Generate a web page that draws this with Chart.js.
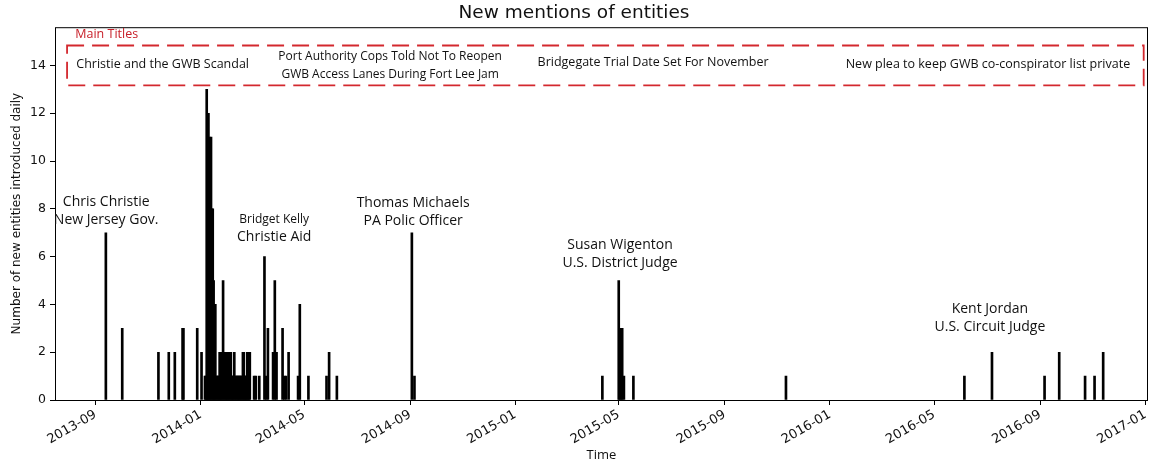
<!DOCTYPE html>
<html>
<head>
<meta charset="utf-8">
<script src="https://cdn.jsdelivr.net/npm/chart.js@4"></script>
<style>
  body { margin: 0; background: #fff; }
  .chart-wrap { width: 1163px; height: 463px; }
</style>
</head>
<body>
<div class="chart-wrap"><canvas id="chart"></canvas></div>
<script>
// days on which new entities showed up, and how many
const entityDates = [
  "2013-09-13", "2013-10-02", "2013-11-13", "2013-11-25", "2013-12-02",
  "2013-12-11", "2013-12-12", "2013-12-28", "2014-01-02",
  "2014-01-06", "2014-01-07", "2014-01-08", "2014-01-09", "2014-01-10",
  "2014-01-11", "2014-01-12", "2014-01-13", "2014-01-14", "2014-01-15",
  "2014-01-16", "2014-01-17", "2014-01-18", "2014-01-19", "2014-01-20",
  "2014-01-21", "2014-01-22", "2014-01-23", "2014-01-24", "2014-01-25",
  "2014-01-26", "2014-01-27", "2014-01-28", "2014-01-29", "2014-01-30",
  "2014-01-31", "2014-02-01", "2014-02-02", "2014-02-03", "2014-02-04",
  "2014-02-05", "2014-02-06", "2014-02-07", "2014-02-08", "2014-02-09",
  "2014-02-10", "2014-02-11", "2014-02-12", "2014-02-13", "2014-02-14",
  "2014-02-15", "2014-02-16", "2014-02-17", "2014-02-18", "2014-02-19",
  "2014-02-20", "2014-02-21", "2014-02-22", "2014-02-23", "2014-02-24",
  "2014-02-25", "2014-02-26", "2014-02-27",
  "2014-03-04", "2014-03-06", "2014-03-10", "2014-03-16", "2014-03-18",
  "2014-03-20", "2014-03-26", "2014-03-28", "2014-03-30", "2014-04-06",
  "2014-04-08", "2014-04-10", "2014-04-13", "2014-04-24", "2014-04-26",
  "2014-05-06", "2014-05-27", "2014-05-30", "2014-06-08",
  "2014-09-03", "2014-09-06",
  "2015-04-12", "2015-05-01", "2015-05-02", "2015-05-04", "2015-05-05",
  "2015-05-07", "2015-05-18", "2015-11-11",
  "2016-06-05", "2016-07-07", "2016-09-06", "2016-09-23", "2016-10-23",
  "2016-11-03", "2016-11-13"
];
const entityCounts = [
  7, 3, 2, 2, 2,
  3, 3, 3, 2,
  1, 1, 13, 12, 12,
  11, 7, 11, 8, 8,
  5, 4, 4, 1, 1,
  1, 1, 2, 2, 2,
  2, 5, 2, 2, 2,
  2, 2, 2, 2, 2,
  2, 1, 1, 1, 2,
  1, 1, 1, 1, 1,
  1, 1, 1, 1, 2,
  2, 1, 1, 1, 2,
  2, 2, 2,
  1, 1, 1, 6, 1,
  3, 2, 5, 2, 3,
  1, 1, 2, 1, 4,
  1, 1, 2, 1,
  7, 1,
  1, 5, 1, 3, 3,
  1, 1, 1,
  1, 2, 1, 2, 1,
  1, 2
];

const tickDates = ["2013-09-01", "2014-01-01", "2014-05-01", "2014-09-01", "2015-01-01", "2015-05-01",
                   "2015-09-01", "2016-01-01", "2016-05-01", "2016-09-01", "2017-01-01"];
const tickLabels = ["2013-09", "2014-01", "2014-05", "2014-09", "2015-01", "2015-05",
                    "2015-09", "2016-01", "2016-05", "2016-09", "2017-01"];
const yTicks = [0, 2, 4, 6, 8, 10, 12, 14];

// x axis runs in days counted from 2013-09-01
function dayOf(s) {
  const p = s.split("-").map(Number);
  return (Date.UTC(p[0], p[1] - 1, p[2]) - Date.UTC(2013, 8, 1)) / 86400000;
}

// who each spike is about (x in days, y in counts)
const entityNotes = [
  { x: 12.4, y: 8.27, lines: ["Chris Christie", "New Jersey Gov."], sizes: [14, 14] },
  { x: 207.3, y: 7.56, lines: ["Bridget Kelly", "Christie Aid"], sizes: [12, 14] },
  { x: 368.5, y: 8.23, lines: ["Thomas Michaels", "PA Polic Officer"], sizes: [14, 14] },
  { x: 608.5, y: 6.48, lines: ["Susan Wigenton", "U.S. District Judge"], sizes: [14, 14] },
  { x: 1037.6, y: 3.80, lines: ["Kent Jordan", "U.S. Circuit Judge"], sizes: [14, 14] }
];

const headlineNotes = [
  { x: 77.9, y: 14.04, size: 12.5, lines: ["Christie and the GWB Scandal"] },
  { x: 341.8, y: 14.37, size: 12, lines: ["Port Authority Cops Told Not To Reopen", "GWB Access Lanes During Fort Lee Jam"] },
  { x: 646.8, y: 14.12, size: 12.5, lines: ["Bridgegate Trial Date Set For November"] },
  { x: 1035.3, y: 14.04, size: 12.5, lines: ["New plea to keep GWB co-conspirator list private"] }
];

const notesPlugin = {
  id: "notes",
  afterDatasetsDraw(chart) {
    const ctx = chart.ctx;
    const a = chart.chartArea;
    const x = chart.scales.x;
    const y = chart.scales.y;
    ctx.save();

    // axes frame
    ctx.strokeStyle = "#000";
    ctx.lineWidth = 1;
    ctx.strokeRect(a.left + 0.5, a.top + 0.5, a.right - a.left - 1, a.bottom - a.top);

    ctx.fillStyle = "#111";
    ctx.textAlign = "center";
    ctx.textBaseline = "middle";
    entityNotes.forEach(n => {
      const px = x.getPixelForValue(n.x);
      const py = y.getPixelForValue(n.y);
      n.lines.forEach((line, i) => {
        ctx.font = n.sizes[i] + 'px "Open Sans"';
        ctx.fillText(line, px, py + i * 17.5);
      });
    });

    headlineNotes.forEach(n => {
      const px = x.getPixelForValue(n.x);
      const py = y.getPixelForValue(n.y);
      ctx.font = n.size + 'px "Open Sans"';
      n.lines.forEach((line, i) => ctx.fillText(line, px, py + i * 18));
    });

    // dashed red box round the headlines
    const bx0 = x.getPixelForValue(-33), bx1 = x.getPixelForValue(1216);
    const by0 = y.getPixelForValue(14.835), by1 = y.getPixelForValue(13.163);
    ctx.strokeStyle = "#d3282e";
    ctx.lineWidth = 1.8;
    ctx.setLineDash([17, 8]);
    ctx.strokeRect(bx0, by0, bx1 - bx0, by1 - by0);
    ctx.setLineDash([]);

    ctx.fillStyle = "#c8202a";
    ctx.textAlign = "left";
    ctx.font = '12.5px "Open Sans"';
    ctx.fillText("Main Titles", x.getPixelForValue(-23.5), y.getPixelForValue(15.3));

    ctx.restore();
  }
};

Chart.defaults.font.family = "DejaVu Sans";
Chart.defaults.color = "#111";

const points = entityDates.map((d, i) => ({ x: dayOf(d), y: entityCounts[i] }));

new Chart(document.getElementById("chart"), {
  type: "bar",
  data: {
    datasets: [{
      data: points,
      backgroundColor: "#000",
      borderWidth: 0,
      barThickness: 2
    }]
  },
  options: {
    responsive: true,
    maintainAspectRatio: false,
    animation: false,
    layout: { padding: { right: 15 } },
    plugins: {
      legend: { display: false },
      tooltip: { enabled: false },
      title: {
        display: true,
        text: "New mentions of entities",
        font: { size: 18.5, weight: "normal" },
        color: "#111",
        padding: { top: 2, bottom: 3 }
      }
    },
    scales: {
      x: {
        type: "linear",
        min: -47,
        max: 1221,
        offset: false,
        afterBuildTicks: s => { s.ticks = tickDates.map(d => ({ value: dayOf(d) })); },
        afterFit: s => { s.height = 63; },
        grid: { display: true, offset: false, drawOnChartArea: false, tickLength: 5, color: "#000" },
        border: { display: false },
        ticks: {
          autoSkip: false,
          minRotation: 30,
          maxRotation: 30,
          padding: 2,
          font: { size: 13 },
          callback: v => {
            const i = tickDates.findIndex(d => dayOf(d) === v);
            return i >= 0 ? tickLabels[i] : "";
          }
        },
        title: {
          display: true,
          text: "Time",
          font: { family: "Open Sans", size: 13 },
          padding: { top: 0, bottom: 0 }
        }
      },
      y: {
        min: 0,
        max: 15.6,
        afterBuildTicks: s => { s.ticks = yTicks.map(v => ({ value: v })); },
        afterFit: s => { s.width = 55; },
        grid: { display: true, drawOnChartArea: false, tickLength: 5, color: "#000" },
        border: { display: false },
        ticks: { padding: 4, font: { size: 12.5 } },
        title: {
          display: true,
          text: "Number of new entities introduced daily",
          font: { size: 12 },
          padding: { top: 10, bottom: 0 }
        }
      }
    }
  },
  plugins: [notesPlugin]
});
</script>
</body>
</html>
